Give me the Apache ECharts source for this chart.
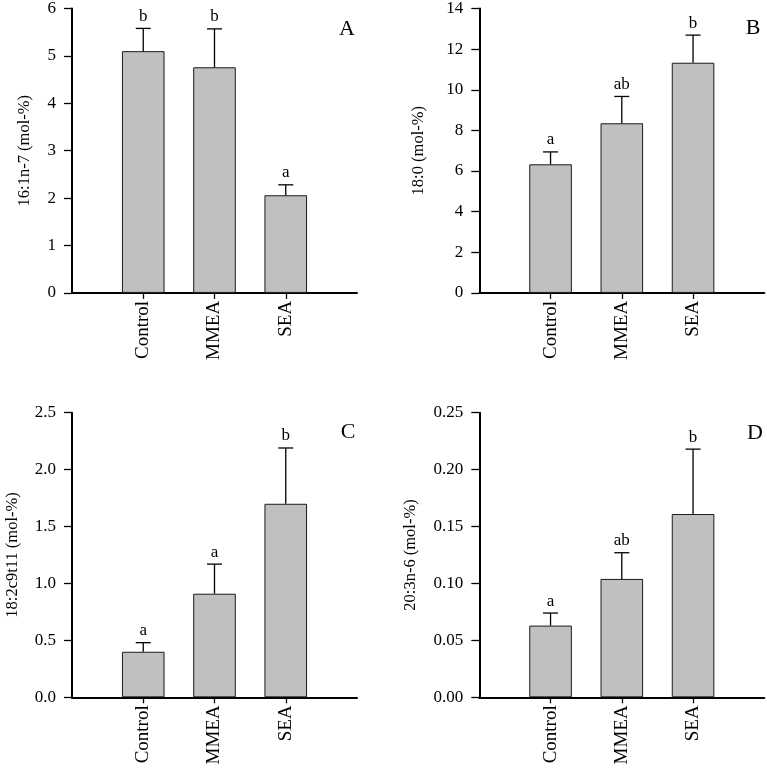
<!DOCTYPE html>
<html>
<head>
<meta charset="utf-8">
<script src="https://cdn.jsdelivr.net/npm/echarts@6/dist/echarts.min.js"></script>
<style>html,body{margin:0;padding:0;background:#fff}#c{width:767px;height:768px}</style>
</head>
<body>
<div id="c"></div>
<script>
// ---- data ----
const categories = ['Control', 'MMEA', 'SEA'];

const meansA = [5.10, 4.76, 2.06];
const errA   = [0.48, 0.81, 0.22];
const lettersA = ['b', 'b', 'a'];
const nameA = '16:1n-7 (mol-%)';

const meansB = [6.33, 8.35, 11.33];
const errB   = [0.61, 1.32, 1.36];
const lettersB = ['a', 'ab', 'b'];
const nameB = '18:0 (mol-%)';

const meansC = [0.40, 0.91, 1.70];
const errC   = [0.08, 0.26, 0.49];
const lettersC = ['a', 'a', 'b'];
const nameC = '18:2c9t11 (mol-%)';

const meansD = [0.063, 0.104, 0.161];
const errD   = [0.011, 0.023, 0.057];
const lettersD = ['a', 'ab', 'b'];
const nameD = '20:3n-6 (mol-%)';

const yMaxA = 6, yStepA = 1, yDecA = 0;
const yMaxB = 14, yStepB = 2, yDecB = 0;
const yMaxC = 2.5, yStepC = 0.5, yDecC = 1;
const yMaxD = 0.25, yStepD = 0.05, yDecD = 2;

// ---- layout / style ----
const FONT = '"Liberation Serif", "Times New Roman", serif';
const panels = [
  {means: meansA, err: errA, letters: lettersA, name: nameA, max: yMaxA, step: yStepA, dec: yDecA, tag: 'A',
   left: 72, top: 8.3, gap: 39, tagX: 347, tagY: 29},
  {means: meansB, err: errB, letters: lettersB, name: nameB, max: yMaxB, step: yStepB, dec: yDecB, tag: 'B',
   left: 479.3, top: 8.3, gap: 52, tagX: 753, tagY: 28},
  {means: meansC, err: errC, letters: lettersC, name: nameC, max: yMaxC, step: yStepC, dec: yDecC, tag: 'C',
   left: 72, top: 412.7, gap: 51, tagX: 348, tagY: 432},
  {means: meansD, err: errD, letters: lettersD, name: nameD, max: yMaxD, step: yStepD, dec: yDecD, tag: 'D',
   left: 479.3, top: 412.7, gap: 60, tagX: 755, tagY: 433}
];
const GW = 285, GH = 284.6;
const axisCats = [''].concat(categories, ['']);

const grid = [], xAxis = [], yAxis = [], series = [], graphic = [];
panels.forEach((p, i) => {
  grid.push({left: p.left, top: p.top, width: GW, height: GH});
  xAxis.push({
    type: 'category', gridIndex: i, data: axisCats, boundaryGap: false,
    axisLine: {lineStyle: {color: '#000', width: 2}},
    axisTick: {length: 6, interval: (idx, v) => v !== '', lineStyle: {color: '#000', width: 1.3}},
    axisLabel: {rotate: 90, interval: 0, margin: 8, fontFamily: FONT, fontSize: 19, color: '#000'},
    splitLine: {show: false}
  });
  yAxis.push({
    type: 'value', gridIndex: i, min: 0, max: p.max, interval: p.step,
    name: p.name, nameLocation: 'middle', nameGap: p.gap,
    nameTextStyle: {fontFamily: FONT, fontSize: 16.5, color: '#000'},
    axisLine: {show: true, lineStyle: {color: '#000', width: 2}},
    axisTick: {show: true, length: 8, lineStyle: {color: '#000', width: 1.3}},
    axisLabel: {margin: 16, fontFamily: FONT, fontSize: 17, color: '#000',
      formatter: v => v.toFixed(p.dec)},
    splitLine: {show: false}
  });
  series.push({
    type: 'bar', xAxisIndex: i, yAxisIndex: i, barWidth: 42.6,
    data: ['-'].concat(p.means, ['-']),
    itemStyle: {color: '#c0c0c0', borderColor: '#1a1a1a', borderWidth: 1},
    silent: true, animation: false
  });
  series.push({
    type: 'custom', xAxisIndex: i, yAxisIndex: i, animation: false, silent: true, z: 5,
    data: p.means.map((m, k) => [k + 1, m, p.err[k]]),
    encode: {x: 0, y: 1},
    renderItem: (params, api) => {
      const c = api.value(0), m = api.value(1), e = api.value(2);
      const b = api.coord([c, m]);
      const t = api.coord([c, m + e]);
      return {
        type: 'group',
        children: [
          {type: 'line', shape: {x1: b[0], y1: b[1], x2: t[0], y2: t[1]}, style: {stroke: '#000', lineWidth: 1.3}},
          {type: 'line', shape: {x1: t[0] - 7.5, y1: t[1], x2: t[0] + 7.5, y2: t[1]}, style: {stroke: '#000', lineWidth: 1.3}},
          {type: 'text', x: t[0], y: t[1] - 3.5, style: {text: p.letters[params.dataIndex], fill: '#000',
            font: '17px ' + FONT, textAlign: 'center', textVerticalAlign: 'bottom'}}
        ]
      };
    }
  });
  graphic.push({type: 'text', x: p.tagX, y: p.tagY,
    style: {text: p.tag, fill: '#000', font: '22px ' + FONT, textAlign: 'center', textVerticalAlign: 'middle'}});
});

const chart = echarts.init(document.getElementById('c'), null, {renderer: 'canvas'});
chart.setOption({animation: false, backgroundColor: '#fff', grid, xAxis, yAxis, series, graphic});
</script>
</body>
</html>
